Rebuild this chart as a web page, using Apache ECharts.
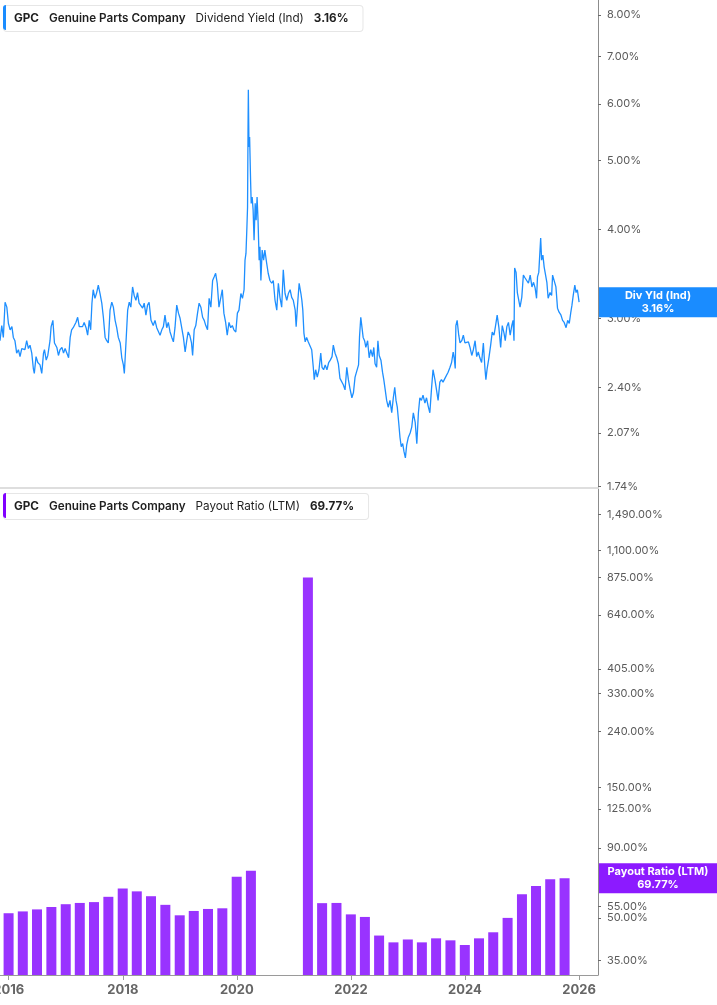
<!DOCTYPE html>
<html>
<head>
<meta charset="utf-8">
<script src="https://cdn.jsdelivr.net/npm/echarts@6.0.0/dist/echarts.min.js"></script>
<style>
html,body{margin:0;padding:0;background:#fff;}
#chart{width:717px;height:1005px;}
</style>
</head>
<body>
<div id="chart"></div>
<script>
const ticker = 'GPC';
const company = 'Genuine Parts Company';
const yieldName = 'Dividend Yield (Ind)';
const yieldShort = 'Div Yld (Ind)';
const payoutName = 'Payout Ratio (LTM)';

const yieldDates = [
'2015-12-08','2015-12-19','2015-12-29','2016-01-09','2016-01-20','2016-01-30','2016-02-10','2016-02-21','2016-03-01','2016-03-11',
'2016-03-22','2016-04-02','2016-04-12','2016-04-23','2016-05-03','2016-05-13','2016-05-24','2016-06-04','2016-06-14','2016-06-25',
'2016-07-05','2016-07-11','2016-07-22','2016-08-02','2016-08-16','2016-08-27','2016-09-07','2016-09-13','2016-09-24','2016-10-04',
'2016-10-18','2016-10-25','2016-11-05','2016-11-15','2016-11-30','2016-12-10','2016-12-20','2017-01-01','2017-01-11','2017-01-21',
'2017-02-02','2017-02-12','2017-02-22','2017-03-03','2017-03-13','2017-03-30','2017-04-10','2017-04-20','2017-04-30','2017-05-11',
'2017-05-21','2017-06-02','2017-06-12','2017-06-22','2017-07-01','2017-07-09','2017-07-17','2017-07-28','2017-08-08','2017-08-18',
'2017-08-29','2017-09-09','2017-09-19','2017-09-30','2017-10-10','2017-10-20','2017-10-31','2017-11-11','2017-11-21','2017-12-02',
'2017-12-12','2017-12-22','2018-01-03','2018-01-13','2018-01-23','2018-01-29','2018-02-09','2018-02-19','2018-03-01','2018-03-11',
'2018-03-22','2018-04-01','2018-04-12','2018-04-22','2018-05-02','2018-05-13','2018-05-24','2018-06-03','2018-06-14','2018-06-24',
'2018-07-04','2018-07-16','2018-07-30','2018-08-10','2018-08-21','2018-08-31','2018-09-11','2018-09-22','2018-10-02','2018-10-12',
'2018-10-23','2018-11-02','2018-11-13','2018-11-24','2018-12-04','2018-12-14','2018-12-25','2019-01-05','2019-01-15','2019-01-26',
'2019-02-05','2019-02-16','2019-02-26','2019-03-07','2019-03-17','2019-03-28','2019-04-04','2019-04-14','2019-04-24','2019-05-05',
'2019-05-15','2019-05-26','2019-06-06','2019-06-16','2019-06-26','2019-07-07','2019-07-17','2019-07-28','2019-08-08','2019-08-18',
'2019-08-27','2019-09-06','2019-09-17','2019-09-28','2019-10-08','2019-10-18','2019-10-29','2019-11-08','2019-11-19','2019-11-30',
'2019-12-10','2019-12-20','2020-01-01','2020-01-11','2020-01-21','2020-02-02','2020-02-12','2020-02-22','2020-02-28','2020-03-05',
'2020-03-11','2020-03-15','2020-03-18','2020-03-20','2020-03-24','2020-03-28','2020-04-03','2020-04-07','2020-04-13','2020-04-19',
'2020-04-25','2020-05-02','2020-05-08','2020-05-14','2020-05-20','2020-05-27','2020-06-01','2020-06-07','2020-06-15','2020-06-24',
'2020-07-02','2020-07-13','2020-07-23','2020-08-03','2020-08-14','2020-08-24','2020-09-04','2020-09-15','2020-09-25','2020-10-05',
'2020-10-16','2020-10-26','2020-11-06','2020-11-17','2020-11-27','2020-12-08','2020-12-18','2020-12-28','2021-01-09','2021-01-15',
'2021-01-26','2021-02-03','2021-02-14','2021-02-20','2021-02-26','2021-03-05','2021-03-13','2021-03-22','2021-04-01','2021-04-12',
'2021-04-23','2021-05-03','2021-05-09','2021-05-18','2021-05-28','2021-06-08','2021-06-19','2021-06-27','2021-07-07','2021-07-17',
'2021-07-28','2021-08-08','2021-08-18','2021-08-29','2021-09-06','2021-09-17','2021-09-28','2021-10-08','2021-10-18','2021-10-29',
'2021-11-08','2021-11-19','2021-11-30','2021-12-10','2021-12-20','2022-01-01','2022-01-11','2022-01-21','2022-02-02','2022-02-12',
'2022-02-18','2022-02-26','2022-03-05','2022-03-13','2022-03-22','2022-03-30','2022-04-10','2022-04-20','2022-04-30','2022-05-11',
'2022-05-19','2022-05-27','2022-06-06','2022-06-14','2022-06-22','2022-07-03','2022-07-13','2022-07-21','2022-07-30','2022-08-08',
'2022-08-18','2022-08-29','2022-09-09','2022-09-19','2022-09-28','2022-10-06','2022-10-14','2022-10-23','2022-10-31','2022-11-08',
'2022-11-17','2022-11-25','2022-12-04','2022-12-12','2022-12-22','2023-01-03','2023-01-13','2023-01-23','2023-02-04','2023-02-14',
'2023-02-24','2023-03-05','2023-03-15','2023-03-25','2023-04-06','2023-04-16','2023-04-26','2023-05-07','2023-05-17','2023-05-27',
'2023-06-08','2023-06-18','2023-06-28','2023-07-09','2023-07-19','2023-07-29','2023-08-10','2023-08-20','2023-08-30','2023-09-11',
'2023-09-21','2023-10-01','2023-10-07','2023-10-14','2023-10-18','2023-10-26','2023-11-05','2023-11-13','2023-11-24','2023-12-04',
'2023-12-14','2023-12-25','2024-01-05','2024-01-15','2024-01-26','2024-02-05','2024-02-16','2024-02-26','2024-03-07','2024-03-17',
'2024-03-28','2024-04-08','2024-04-18','2024-04-24','2024-05-02','2024-05-13','2024-05-24','2024-06-03','2024-06-14','2024-06-24',
'2024-07-04','2024-07-15','2024-07-26','2024-08-05','2024-08-16','2024-08-24','2024-09-03','2024-09-13','2024-09-24','2024-10-04',
'2024-10-12','2024-10-18','2024-10-22','2024-10-31','2024-11-08','2024-11-17','2024-11-25','2024-12-06','2024-12-16','2024-12-26',
'2025-01-07','2025-01-17','2025-01-28','2025-02-08','2025-02-18','2025-02-28','2025-03-09','2025-03-15','2025-03-23','2025-04-04',
'2025-04-10','2025-04-18','2025-04-26','2025-05-05','2025-05-13','2025-05-21','2025-06-02','2025-06-12','2025-06-18','2025-06-28',
'2025-07-09','2025-07-19','2025-07-29','2025-08-10','2025-08-20','2025-08-30','2025-09-11','2025-09-21','2025-10-01','2025-10-10',
'2025-10-18','2025-10-26','2025-11-05','2025-11-13','2025-11-21','2025-12-02'
];
const yieldValues = [
2.79,2.93,2.82,3.16,3.11,2.95,2.89,2.92,2.82,2.79,
2.68,2.71,2.65,2.72,2.73,2.71,2.79,2.72,2.75,2.68,
2.55,2.51,2.65,2.60,2.58,2.51,2.68,2.71,2.62,2.66,
2.79,2.92,2.98,2.77,2.73,2.66,2.71,2.73,2.68,2.72,
2.71,2.64,2.82,2.89,2.91,2.96,3.01,2.92,2.93,2.92,
2.96,2.91,2.84,2.98,2.89,3.15,3.29,3.20,3.26,3.34,
3.25,3.15,3.01,2.82,2.79,2.77,3.08,3.16,3.11,2.98,
2.91,2.82,2.77,2.64,2.58,2.51,2.79,3.08,3.16,3.11,
3.32,3.23,3.18,3.26,3.15,3.16,3.10,3.15,3.03,3.13,
3.16,2.98,2.93,2.98,2.91,2.92,2.84,2.89,2.92,3.03,
2.91,2.96,2.87,2.82,2.78,2.91,3.13,3.05,3.00,3.01,
2.82,2.69,2.79,2.87,2.84,2.77,2.66,2.89,2.93,3.05,
3.15,3.11,3.01,2.98,2.93,2.89,3.20,3.11,3.39,3.43,
3.47,3.36,3.11,3.10,3.29,3.05,2.96,2.84,2.96,2.91,
2.93,2.89,2.87,3.05,3.08,3.25,3.20,3.29,3.62,3.70,
4.03,4.30,5.51,6.28,5.22,5.39,4.69,4.35,4.44,4.26,
3.86,4.35,4.12,4.44,4.12,3.62,3.78,3.39,3.74,3.62,
3.74,3.59,3.47,3.39,3.36,3.39,3.18,3.08,3.36,3.21,
3.11,3.51,3.25,3.18,3.25,3.29,3.21,3.18,3.08,2.92,
3.18,3.36,3.25,3.18,3.08,2.86,2.78,2.82,2.78,2.79,
2.71,2.56,2.46,2.54,2.48,2.54,2.68,2.56,2.54,2.58,
2.54,2.60,2.62,2.65,2.75,2.68,2.64,2.59,2.47,2.47,
2.42,2.38,2.56,2.46,2.39,2.32,2.36,2.48,2.47,2.58,
2.82,3.01,2.92,2.82,2.79,2.73,2.79,2.64,2.71,2.65,
2.73,2.59,2.56,2.79,2.66,2.62,2.52,2.46,2.38,2.30,
2.25,2.30,2.21,2.32,2.40,2.30,2.25,2.14,2.04,1.98,
2.00,1.95,1.91,1.99,2.04,2.07,2.11,2.21,2.14,2.00,
2.21,2.32,2.30,2.34,2.28,2.32,2.26,2.21,2.38,2.54,
2.46,2.38,2.30,2.44,2.46,2.44,2.47,2.48,2.52,2.56,
2.60,2.69,2.64,2.55,2.93,2.98,2.84,2.77,2.79,2.84,
2.77,2.78,2.78,2.73,2.66,2.71,2.79,2.65,2.69,2.64,
2.60,2.77,2.55,2.46,2.55,2.64,2.75,2.87,2.84,2.93,
3.03,2.91,2.73,2.93,2.86,2.79,2.92,2.96,2.84,2.93,
2.98,2.79,3.53,3.48,3.26,3.25,3.11,3.21,3.45,3.42,
3.43,3.36,3.45,3.32,3.37,3.31,3.20,3.43,3.48,3.89,
3.62,3.68,3.54,3.53,3.37,3.20,3.26,3.23,3.45,3.43,
3.32,3.10,3.06,3.03,2.98,2.96,2.91,2.98,2.95,3.05,
3.13,3.23,3.34,3.26,3.29,3.16
];

const payoutDates = [
'2015-12-31','2016-03-31','2016-06-30','2016-09-30','2016-12-31','2017-03-31','2017-06-30','2017-09-30','2017-12-31',
'2018-03-31','2018-06-30','2018-09-30','2018-12-31','2019-03-31','2019-06-30','2019-09-30','2019-12-31','2020-03-31',
'2021-03-31','2021-06-30','2021-09-30','2021-12-31','2022-03-31','2022-06-30','2022-09-30','2022-12-31','2023-03-31',
'2023-06-30','2023-09-30','2023-12-31','2024-03-31','2024-06-30','2024-09-30','2024-12-31','2025-03-31','2025-06-30','2025-09-30'
];
const payoutValues = [
52.0,52.8,53.7,54.8,56.1,56.7,57.1,59.7,64.0,
62.5,60.0,55.8,51.1,53.0,53.9,54.2,70.6,74.3,
875.0,56.6,56.7,51.5,50.4,43.1,40.7,41.7,40.7,
42.1,41.4,39.8,42.1,44.3,50.0,61.0,65.4,69.2,69.77
];

const yieldTicks = [1.74, 2.07, 2.40, 3.00, 4.00, 5.00, 6.00, 7.00, 8.00];
const payoutTicks = [35, 50, 55, 90, 125, 150, 240, 330, 405, 640, 875, 1100, 1490];
const yearTicks = ['2016-01-01','2018-01-01','2020-01-01','2022-01-01','2024-01-01','2026-01-01'];

const BLUE_LINE = '#1e8fff';
const BLUE_BOX = '#1a8cff';
const PURPLE_BAR = '#9933ff';
const PURPLE_BOX = '#8c1aff';

const lastYield = yieldValues[yieldValues.length - 1];
const lastPayout = payoutValues[payoutValues.length - 1];
const fmtPct = v => Number(v).toLocaleString('en-US', {minimumFractionDigits: 2, maximumFractionDigits: 2}) + '%';

const xMin = '2015-12-08';
const xMax = '2026-03-31';

function legendText(name, value) {
  return '{t|' + ticker + '}{s| }{n|' + company + '}{s| }{m|' + name + '}{s| }{v|' + fmtPct(value) + '}';
}
const LF = 11.7;
const legendRich = {
  t: {fontFamily: 'Inter', fontSize: LF, fontWeight: 'bold', fill: '#1f1f1f', lineHeight: 13},
  n: {fontFamily: 'Inter', fontSize: LF, fontWeight: 600, fill: '#1f1f1f', lineHeight: 13},
  m: {fontFamily: 'Inter', fontSize: LF, fontWeight: 'normal', fill: '#1f1f1f', lineHeight: 13},
  v: {fontFamily: 'Inter', fontSize: LF, fontWeight: 'bold', fill: '#1f1f1f', lineHeight: 13},
  s: {width: 10, fontSize: LF, lineHeight: 13}
};

function yAxisCommon(ticks) {
  return {
    type: 'log',
    logBase: 10,
    position: 'right',
    axisLine: {show: true, onZero: false, lineStyle: {color: '#8c8c8c', width: 1}},
    axisTick: {show: true, length: 3, customValues: ticks, lineStyle: {color: '#6a6a6a'}},
    axisLabel: {customValues: ticks, formatter: fmtPct, color: '#5a5a5a', fontSize: 11, fontFamily: 'Inter', margin: 9},
    splitLine: {show: false}
  };
}

function valueMarker(value, text, bg) {
  return {
    silent: true, symbol: 'none', z: 10,
    lineStyle: {color: 'rgba(0,0,0,0)', width: 0, opacity: 1},
    label: {
      show: true, position: 'end', distance: 60, align: 'center', verticalAlign: 'middle',
      formatter: text, color: '#ffffff', opacity: 1, fontWeight: 'bold', fontSize: 11, lineHeight: 13,
      fontFamily: 'Inter', backgroundColor: bg, width: 118, padding: [2, 0, 2, 0]
    },
    data: [{yAxis: value}]
  };
}

const chart = echarts.init(document.getElementById('chart'), null, {renderer: 'canvas'});
chart.setOption({
  animation: false,
  backgroundColor: '#ffffff',
  textStyle: {fontFamily: 'Inter'},
  grid: [
    {left: 0, top: 0, width: 598, height: 488, containLabel: false, outerBoundsMode: 'none'},
    {left: 0, top: 489, width: 598, height: 486, containLabel: false, outerBoundsMode: 'none'}
  ],
  xAxis: [
    {type: 'time', gridIndex: 0, min: xMin, max: xMax,
     axisLine: {show: true, onZero: false, lineStyle: {color: '#dedede', width: 2}},
     axisTick: {show: false}, axisLabel: {show: false}, splitLine: {show: false}},
    {type: 'time', gridIndex: 1, min: xMin, max: xMax,
     axisLine: {show: true, onZero: false, lineStyle: {color: '#9a9a9a', width: 1}},
     axisTick: {show: true, length: 5, customValues: yearTicks, lineStyle: {color: '#9a9a9a'}},
     axisLabel: {customValues: yearTicks, formatter: '{yyyy}', fontWeight: 'bold', fontSize: 13, color: '#666666', margin: 9, fontFamily: 'Inter'},
     splitLine: {show: false}}
  ],
  yAxis: [
    Object.assign({gridIndex: 0, min: 1.7327, max: 8.398}, yAxisCommon(yieldTicks)),
    Object.assign({gridIndex: 1, min: 30.93, max: 1843}, yAxisCommon(payoutTicks))
  ],
  series: [
    {
      name: yieldName, type: 'line', xAxisIndex: 0, yAxisIndex: 0,
      data: yieldDates.map((d, i) => [d, yieldValues[i]]),
      showSymbol: false, symbol: 'none', clip: false,
      lineStyle: {color: BLUE_LINE, width: 1.3}, itemStyle: {color: BLUE_LINE},
      markLine: valueMarker(lastYield, yieldShort + '\n' + fmtPct(lastYield), BLUE_BOX)
    },
    {
      name: payoutName, type: 'bar', xAxisIndex: 1, yAxisIndex: 1,
      data: payoutDates.map((d, i) => [d, payoutValues[i]]),
      barWidth: 10, clip: true,
      itemStyle: {color: PURPLE_BAR},
      markLine: valueMarker(lastPayout, payoutName + '\n' + fmtPct(lastPayout), PURPLE_BOX)
    }
  ],
  graphic: [
    {type: 'text', left: 3, top: 5, z: 100,
     style: {text: legendText(yieldName, lastYield), rich: legendRich, backgroundColor: '#fff',
             borderColor: '#e6e6e6', borderWidth: 1, borderRadius: 3, padding: [6, 14, 6, 10]}},
    {type: 'rect', left: 3, top: 5, z: 101, shape: {width: 3, height: 25, r: [3, 0, 0, 3]}, style: {fill: BLUE_BOX}},
    {type: 'text', left: 3, top: 493, z: 100,
     style: {text: legendText(payoutName, lastPayout), rich: legendRich, backgroundColor: '#fff',
             borderColor: '#e6e6e6', borderWidth: 1, borderRadius: 3, padding: [6, 14, 6, 10]}},
    {type: 'rect', left: 3, top: 493, z: 101, shape: {width: 3, height: 25, r: [3, 0, 0, 3]}, style: {fill: '#8000ff'}}
  ]
});
</script>
</body>
</html>
